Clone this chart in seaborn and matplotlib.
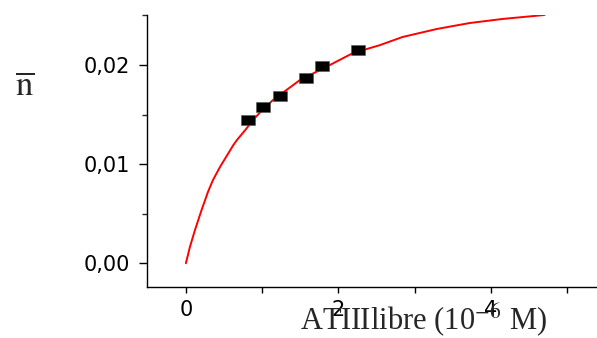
import matplotlib
matplotlib.use("Agg")
import matplotlib.pyplot as plt
from matplotlib.ticker import MultipleLocator, FuncFormatter
import seaborn as sns
import pandas as pd

# measured points (ATIII libre, 10^-6 M) vs n-bar
x_points = [0.81, 1.01, 1.23, 1.57, 1.78, 2.25]
n_points = [0.01444, 0.01576, 0.01687, 0.01869, 0.0199, 0.0215]

# fitted curve
x_fit = [0.0, 0.052, 0.118, 0.206, 0.292, 0.354, 0.446, 0.62, 0.668, 0.795,
         0.878, 0.97, 1.14, 1.494, 1.887, 2.19, 2.54, 2.84, 3.29, 3.72, 4.15, 4.70]
n_fit = [0.0, 0.00162, 0.00333, 0.00538, 0.00725, 0.00838, 0.0097, 0.0119,
         0.01242, 0.0136, 0.01444, 0.0152, 0.01646, 0.01848, 0.0200, 0.02121,
         0.0220, 0.02283, 0.02364, 0.02424, 0.02465, 0.02505]

pts = pd.DataFrame({"x": x_points, "n": n_points})
fit = pd.DataFrame({"x": x_fit, "n": n_fit})

sns.set_style("ticks")
plt.rcParams["font.family"] = ["DejaVu Sans"]
plt.rcParams["mathtext.fontset"] = "stix"

fig = plt.figure(figsize=(5.97, 3.38), dpi=100)
ax = fig.add_axes([147 / 597, 1 - 287 / 338, 1 - 147 / 597, (287 - 15) / 338])

sns.lineplot(data=fit, x="x", y="n", color="red", linewidth=1.4, ax=ax)
rect = [(-1.3, -1), (1.3, -1), (1.3, 1), (-1.3, 1), (-1.3, -1)]
sns.scatterplot(data=pts, x="x", y="n", marker=rect, s=95, color="black",
                edgecolor="#555555", linewidth=0.4, ax=ax, zorder=3)

ax.set_xlim(-0.51, 5.39)
ax.set_ylim(-0.0024, 0.02505)
ax.xaxis.set_major_locator(MultipleLocator(2))
ax.xaxis.set_minor_locator(MultipleLocator(1))
ax.yaxis.set_major_locator(MultipleLocator(0.01))
ax.yaxis.set_minor_locator(MultipleLocator(0.005))
ax.yaxis.set_major_formatter(FuncFormatter(lambda v, p: f"{v:.2f}".replace(".", ",")))

for side in ["top", "right"]:
    ax.spines[side].set_visible(False)
for side in ["left", "bottom"]:
    ax.spines[side].set_linewidth(1.0)
    ax.spines[side].set_color("black")

ax.tick_params(axis="y", which="major", length=6, width=1, labelsize=15, pad=6, colors="black")
ax.tick_params(axis="y", which="minor", length=3.5, width=1)
ax.tick_params(axis="x", which="both", length=4, width=1, labelsize=15, pad=5, colors="black")

ax.set_xlabel("")
ax.set_ylabel("")

fig.text(423 / 597, 1 - 330 / 338, "ATIIIlibre (10$^{-6}$ M)", ha="center", va="baseline",
         fontsize=22, family=["Liberation Serif", "DejaVu Serif"])
fig.text(25 / 597, 1 - 95 / 338, r"$\overline{\mathrm{n}}$", ha="center", va="baseline",
         fontsize=25)

fig.savefig("out.png", dpi=100)
